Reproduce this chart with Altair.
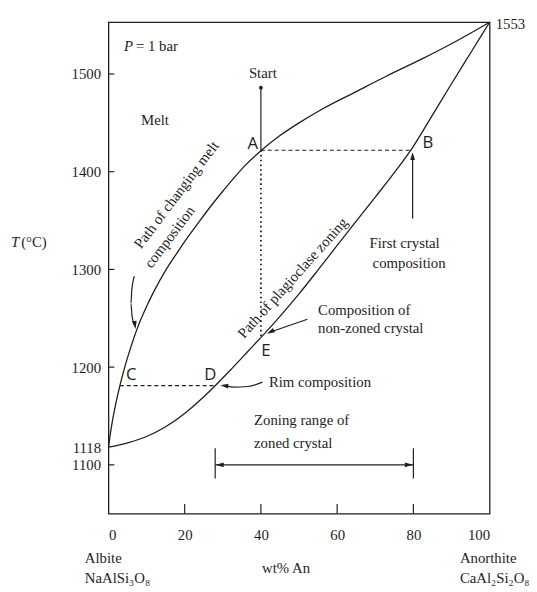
import altair as alt
import pandas as pd

# ---------------- data ----------------
# Liquidus (upper curve)
liq_x = [0, 0.5, 1, 2, 3, 4.5, 6, 7.5, 10, 12, 15, 18, 21, 24, 27.5, 30, 33, 36, 40, 45, 50, 56, 65, 73, 82, 90, 100]
liq_T = [1118, 1132, 1144, 1164, 1181, 1203, 1222, 1239, 1262, 1278, 1299, 1317, 1334, 1350, 1368, 1380, 1394, 1407,
         1421.5, 1437, 1450, 1464, 1482, 1498, 1515, 1531, 1553]
# Solidus (lower curve)
sol_x = [0, 5, 10, 15, 20, 24, 28, 32, 35, 38, 41, 45, 50, 55, 60, 65, 70, 75, 80, 85, 90, 95, 100]
sol_T = [1118, 1122.5, 1129, 1139, 1152.5, 1166, 1181, 1197, 1209.5, 1222, 1234.5, 1252, 1275, 1299.5, 1324.5,
         1349.5, 1374, 1399, 1426, 1458, 1490, 1521.5, 1553]

x_ticks = [0, 20, 40, 60, 80, 100]
y_labels = [1100, 1118, 1200, 1300, 1400, 1500]
y_tick_marks = [1100, 1200, 1300, 1400, 1500]
x_tick_marks = [20, 40, 60, 80]

# solid arrow / guide paths: (x, T)
arrow_paths = {
    "start": [(40, 1486), (40, 1422)],
    "melt": [(6.8, 1293), (6.1, 1278), (5.9, 1265), (6.2, 1252), (6.9, 1242)],
    "first": [(79.8, 1352), (79.8, 1416)],
    "nonzoned": [(52.2, 1249), (42.5, 1236)],
    "rim": [(40.4, 1184.6), (36.6, 1180.2), (32.7, 1179.5), (30.4, 1181)],
    "range": [(28, 1100), (80, 1100)],
    "barL": [(28, 1086), (28, 1117)],
    "barR": [(80, 1086), (80, 1117)],
}
dashed_paths = {
    "AB": [(40, 1422), (79.4, 1422)],
    "CD": [(3, 1181), (28, 1181)],
}
dotted_paths = {"AE": [(40, 1422), (40, 1230)]}

head_x = [6.95, 79.8, 42.5, 30.4, 29.2, 78.8]
head_T = [1243, 1416, 1236, 1181, 1100, 1100]
head_angle = [171, 0, 243, 276, 270, 90]

start_x = [40]
start_T = [1486]

letters = ["A", "B", "C", "D", "E"]
letters_x = [37.9, 83.8, 6.0, 26.7, 41.3]
letters_T = [1428.3, 1429.3, 1191.4, 1191.4, 1216.6]

center_txt = ["Start", "Melt", "wt% An"]
center_x = [40.5, 12.2, 46.6]
center_T = [1500.6, 1453, 994.4]

left_txt = ["= 1 bar", "First crystal", "composition", "Composition of", "non-zoned crystal",
            "Rim composition", "Zoning range of", "zoned crystal",
            "Albite", "NaAlSi\u2083O\u2088", "Anorthite", "CaAl\u2082Si\u2082O\u2088", "(\u00b0C)", "1553"]
left_x = [7.2, 68.5, 69.3, 55.0, 55.0, 42.1, 38.2, 38.2, -6.2, -6.2, 92.2, 92.2, -22.9, 101.6]
left_T = [1528.8, 1327.2, 1306, 1258.7, 1239.6, 1185.1, 1145.8, 1122.6, 1004.6, 984.4, 1004.6, 984.4, 1327.7, 1551.4]

italic_txt = ["P", "T"]
italic_x = [4.1, -25.6]
italic_T = [1528.8, 1327.7]

rot1_txt = ["Path of changing melt", "composition"]
rot1_x = [17.8, 16.0]
rot1_T = [1376.6, 1333.3]

rot2_txt = ["Path of plagioclase zoning"]
rot2_x = [48.3]
rot2_T = [1291.4]

# ---------------- build tables ----------------
def paths_df(paths):
    rows = []
    for g, pts in paths.items():
        for i, (x, t) in enumerate(pts):
            rows.append({"g": g, "o": i, "x": x, "y": t})
    return pd.DataFrame(rows)

INK = "#1e1e1e"
SERIF = "Liberation Serif"
SANS = "Open Sans"

xs = alt.Scale(domain=[0, 100], nice=False, zero=False)
ys = alt.Scale(domain=[1050, 1553], nice=False, zero=False)
xaxis = alt.Axis(values=x_ticks, ticks=False, domain=False, grid=False, title=None,
                 labelFont=SERIF, labelFontSize=15, labelColor=INK, labelPadding=14,
                 labelOverlap=False, format="d")
yaxis = alt.Axis(values=y_labels, ticks=False, domain=False, grid=False, title=None,
                 labelFont=SERIF, labelFontSize=15, labelColor=INK, labelPadding=8,
                 labelOverlap=False, format="d")
X = alt.X("x:Q", scale=xs, axis=xaxis)
Y = alt.Y("y:Q", scale=ys, axis=yaxis)

curves = pd.concat([
    pd.DataFrame({"g": "liq", "o": range(len(liq_x)), "x": liq_x, "y": liq_T}),
    pd.DataFrame({"g": "sol", "o": range(len(sol_x)), "x": sol_x, "y": sol_T}),
])

curve_layer = alt.Chart(curves).mark_line(color=INK, strokeWidth=1.3, interpolate="monotone").encode(
    x=X, y=Y, detail="g:N", order="o:Q")

arrow_layer = alt.Chart(paths_df(arrow_paths)).mark_line(color=INK, strokeWidth=1.2, interpolate="monotone").encode(
    x=X, y=Y, detail="g:N", order="o:Q")

dash_layer = alt.Chart(paths_df(dashed_paths)).mark_line(color=INK, strokeWidth=1.2, strokeDash=[4, 3]).encode(
    x=X, y=Y, detail="g:N", order="o:Q")

dot_layer = alt.Chart(paths_df(dotted_paths)).mark_line(color=INK, strokeWidth=1.8, strokeDash=[1.6, 3.2]).encode(
    x=X, y=Y, detail="g:N", order="o:Q")

heads = pd.DataFrame({"x": head_x, "y": head_T, "a": head_angle})
head_layer = alt.Chart(heads).mark_point(shape="M0,-1L0.6,1L-0.6,1Z", filled=True, color=INK,
                                          size=64, opacity=1).encode(
    x=X, y=Y, angle=alt.Angle("a:Q", scale=None))

start_layer = alt.Chart(pd.DataFrame({"x": start_x, "y": start_T})).mark_point(
    filled=True, color=INK, size=14, opacity=1).encode(x=X, y=Y)

ytk = pd.DataFrame({"x": [0] * len(y_tick_marks), "x2": [1.55] * len(y_tick_marks), "y": y_tick_marks})
ytick_layer = alt.Chart(ytk).mark_rule(color=INK, strokeWidth=1.2).encode(x=X, x2="x2:Q", y=Y)
xtk = pd.DataFrame({"x": x_tick_marks, "y": [1050] * len(x_tick_marks), "y2": [1060] * len(x_tick_marks)})
xtick_layer = alt.Chart(xtk).mark_rule(color=INK, strokeWidth=1.2).encode(x=X, y=Y, y2="y2:Q")

def text_layer(txt, xv, yv, **kw):
    df = pd.DataFrame({"x": xv, "y": yv, "t": txt})
    return alt.Chart(df).mark_text(color=INK, baseline="middle", **kw).encode(x=X, y=Y, text="t:N")

t_letters = text_layer(letters, letters_x, letters_T, font=SANS, fontSize=17, align="center")
t_center = text_layer(center_txt, center_x, center_T, font=SERIF, fontSize=15, align="center")
t_left = text_layer(left_txt, left_x, left_T, font=SERIF, fontSize=15, align="left")
t_italic = text_layer(italic_txt, italic_x, italic_T, font=SERIF, fontSize=15, align="left", fontStyle="italic")
t_rot1 = text_layer(rot1_txt, rot1_x, rot1_T, font=SERIF, fontSize=15, align="center", angle=307)
t_rot2 = text_layer(rot2_txt, rot2_x, rot2_T, font=SERIF, fontSize=15, align="center", angle=312)

chart = alt.layer(
    curve_layer, arrow_layer, dash_layer, dot_layer, head_layer, start_layer,
    ytick_layer, xtick_layer,
    t_letters, t_center, t_left, t_italic, t_rot1, t_rot2,
).properties(
    width=387, height=499,
    autosize=alt.AutoSizeParams(type="none"),
    padding={"left": 102, "top": 10, "right": 40, "bottom": 70},
    background="white",
).configure_view(stroke=INK, strokeWidth=1.3)

chart.save("out.html", embed_options={"renderer": "svg", "actions": False})
